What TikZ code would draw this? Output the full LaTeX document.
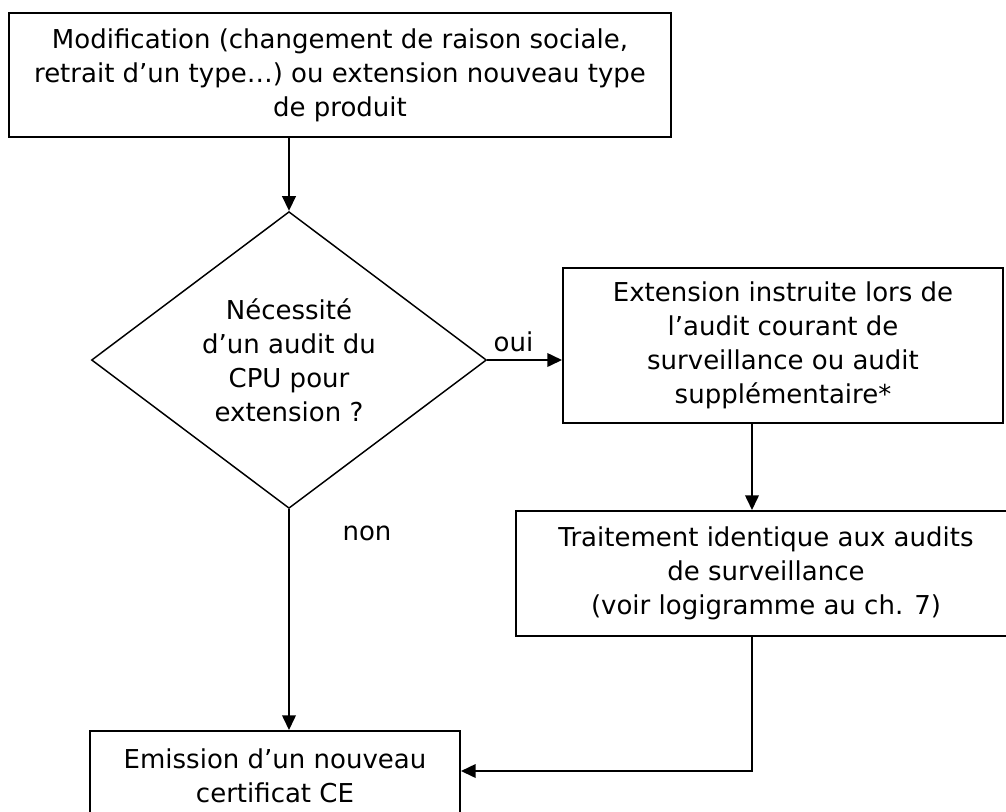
\documentclass[tikz,border=0pt]{standalone}
\usepackage{fontspec}
\setmainfont{DejaVu Sans}
\usetikzlibrary{shapes.geometric, arrows.meta, positioning}

\begin{document}
\begin{tikzpicture}[x=0.75pt, y=-0.75pt,
	every node/.style={font=\fontsize{19.5}{25.5}\selectfont, align=center, inner sep=0pt},
	etape/.style={draw, line width=1.4pt, rectangle},
	choix/.style={draw, line width=1.1pt, diamond},
	fleche/.style={line width=1.8pt, -{Triangle[length=11pt, width=10pt]}}]
	
	%//page in px, (0,0) top left
	\def\u{0.75pt}
	\useasboundingbox (0,0) rectangle (1006,811);
	
	\node[etape, minimum width=662*\u, minimum height=124*\u] (modif) at (340,75)
	{Modification (changement de raison sociale,\\retrait d’un type…) ou extension nouveau type\\de produit};
	
	\node[choix, minimum width=395*\u, minimum height=277*\u] (decision) at (289,360)
	{Nécessité\\d’un audit du\\CPU pour\\extension ?};
	
	\node[etape, minimum width=440*\u, minimum height=155*\u] (extension) at (783,345.5)
	{Extension instruite lors de\\l’audit courant de\\surveillance ou audit\\supplémentaire*};
	
	\node[etape, minimum width=500*\u, minimum height=125*\u] (traitement) at (766,573.5)
	{Traitement identique aux audits\\de surveillance\\(voir logigramme au ch. 7)};
	
	\node[etape, minimum width=370*\u, minimum height=90*\u] (emission) at (275,776)
	{Emission d’un nouveau\\certificat CE};
	
	\coordinate (axe) at (752,0);
	\coordinate (retour) at (752,771);
	
	\draw[fleche] (decision.north |- modif.south) -- (decision.north);
	\draw[fleche] (decision.east) -- (extension.west |- decision.east)
		node[above=5pt, pos=0.35] (oui) {oui};
	\draw[fleche] (extension.south -| axe) -- (traitement.north -| axe);
	\draw[fleche] (traitement.south -| retour) |- (emission.east |- retour);
	\draw[fleche] (decision.south) -- (emission.north -| decision.south);
	
	\node (non) at (367,533) {non};
	
\end{tikzpicture}
\end{document}
